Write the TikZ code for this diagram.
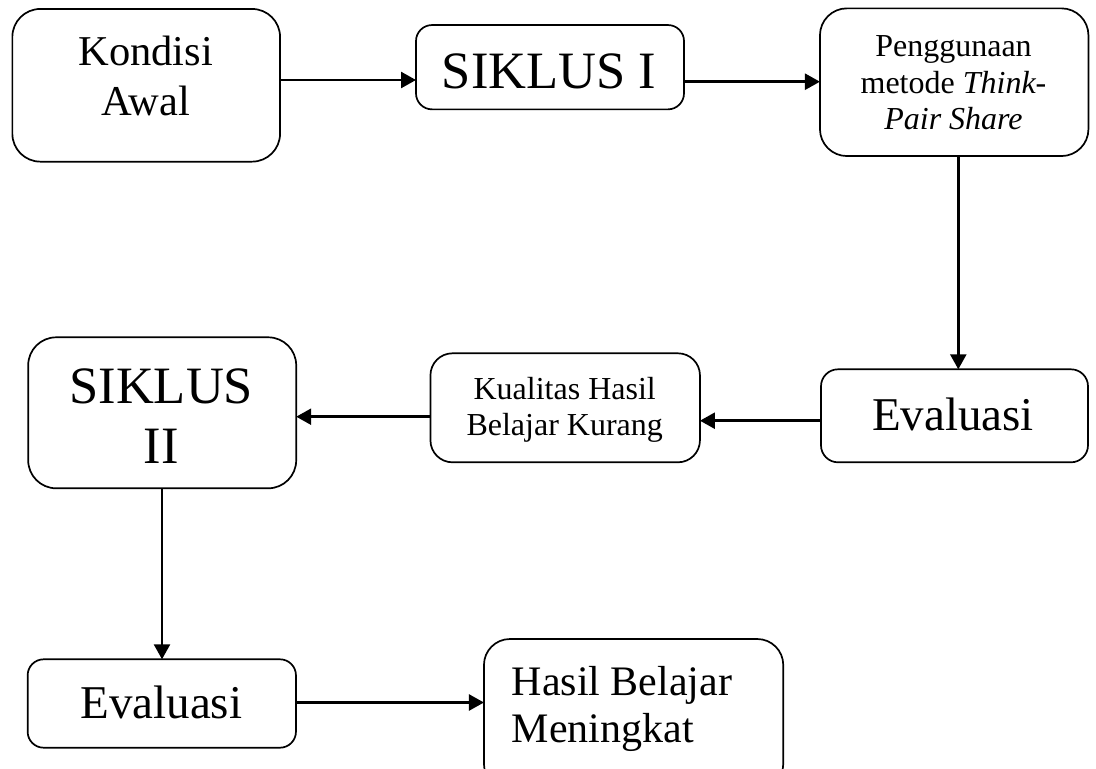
\documentclass[tikz,border=0pt]{standalone}
\usepackage{fontspec}
\setmainfont{Liberation Serif}
\usetikzlibrary{arrows.meta}
\tikzset{
  box/.style={draw, line width=1.7pt, inner sep=0pt, outer sep=0pt, rectangle},
  arr/.style={line width=2.5pt, -{Triangle[length=15pt,width=16pt]}},
  txt/.style={inner sep=0pt, outer sep=0pt, align=center, anchor=base},
  ftA/.style={font=\fontsize{42.5pt}{49.3pt}\selectfont},
  ftB/.style={font=\fontsize{52.5pt}{60pt}\selectfont},
  ftC/.style={font=\fontsize{32pt}{36.3pt}\selectfont},
  ftD/.style={font=\fontsize{47pt}{54pt}\selectfont},
  ftE/.style={font=\fontsize{42pt}{47.3pt}\selectfont},
}
\begin{document}
\begin{tikzpicture}[x=1pt,y=-1pt]
\useasboundingbox (0,0) rectangle (1096,769);
\fill[white] (0,0) rectangle (1096,769);
\clip (0,0) rectangle (1096,769);

% boxes
\node[box, rounded corners=28pt, minimum width=267.7pt, minimum height=152.7pt] (b1) at (146.2,85.3) {};
\node[box, rounded corners=16pt, minimum width=268pt, minimum height=84.3pt] (b2) at (550,67.2) {};
\node[box, rounded corners=27pt, minimum width=268.5pt, minimum height=147.7pt] (b3) at (954.2,82.2) {};
\node[box, rounded corners=17pt, minimum width=267pt, minimum height=93pt] (b4) at (954.5,415.8) {};
\node[box, rounded corners=22pt, minimum width=269.5pt, minimum height=109pt] (b5) at (565.2,407.8) {};
\node[box, rounded corners=28pt, minimum width=268pt, minimum height=151pt] (b6) at (162.2,412.8) {};
\node[box, rounded corners=16pt, minimum width=268.3pt, minimum height=88.4pt] (b7) at (161.8,703.5) {};
\node[box, rounded corners=26pt, minimum width=299.3pt, minimum height=151pt] (b8) at (633.6,714.5) {};

% texts (anchor base = baseline of last line)
\node[txt, ftA] (t1) at (145.8,115) {Kondisi\\Awal};
\node[txt, ftB] (t2) at (549,88.3) {SIKLUS I};
\node[txt, ftC] (t3) at (953.5,129.3) {Penggunaan\\metode \textit{Think-}\\\textit{Pair Share}};
\node[txt, ftD] (t4) at (953,430) {Evaluasi};
\node[txt, ftC] (t5) at (564.7,435.7) {Kualitas Hasil\\Belajar Kurang};
\node[txt, ftB] (t6) at (161.3,463.3) {SIKLUS\\II};
\node[txt, ftD] (t7) at (161.3,718.3) {Evaluasi};
\node[txt, ftE, align=left, anchor=base west] (t8) at (511.7,742.3) {Hasil Belajar\\Meningkat};

% connectors
\draw[arr] (b1.east |- 0,80) -- (b2.west |- 0,80);
\draw[arr] (b2.east |- 0,81.7) -- (b3.west |- 0,81.7);
\draw[arr] (b3.south -| 958.3,0) -- (b4.north -| 958.3,0);
\draw[arr] (b4.west |- 0,420.7) -- (b5.east |- 0,420.7);
\draw[arr] (b5.west |- 0,416.7) -- (b6.east |- 0,416.7);
\draw[arr] (b6.south -| 162,0) -- (b7.north -| 162,0);
\draw[arr] (b7.east |- 0,702.5) -- (b8.west |- 0,702.5);
\end{tikzpicture}
\end{document}
